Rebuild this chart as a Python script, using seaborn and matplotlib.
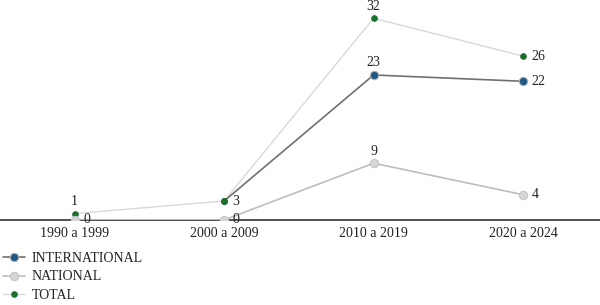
import numpy as np
import pandas as pd
import seaborn as sns
import matplotlib.pyplot as plt

periods = ['1990 a 1999', '2000 a 2009', '2010 a 2019', '2020 a 2024']
international = [np.nan, 3, 23, 22]
national = [0, 0, 9, 4]
total = [1, 3, 32, 26]

sns.set_theme(style='white')
plt.rcParams['font.family'] = ['Liberation Serif', 'DejaVu Serif']

fig = plt.figure(figsize=(6, 3.05), dpi=100)
ax = fig.add_axes([0, 0.279, 1, 0.721])

pos = np.arange(len(periods))
df = pd.DataFrame({'pos': pos, 'INTERNATIONAL': international,
                   'NATIONAL': national, 'TOTAL': total})

sns.lineplot(data=df, x='pos', y='TOTAL', ax=ax, color='#d9d9d9', lw=1,
             marker='o', ms=4, mfc='#1b6e2b', mec='#1b6e2b', label='TOTAL', zorder=2)
sns.lineplot(data=df, x='pos', y='NATIONAL', ax=ax, color='#bdbdbd', lw=1.2,
             marker='o', ms=6, mfc='#d6d6d6', mec='#c4c4c4', label='NATIONAL', zorder=3)
# seaborn drops the missing 1990s value, so the remaining points are 0..2
sns.lineplot(data=df, x='pos', y='INTERNATIONAL', ax=ax, color='#707070', lw=1.2,
             marker='o', ms=6, mfc='#1f5a85', mec='#b0b0b0', markevery=[1, 2],
             label='INTERNATIONAL', zorder=4)
# keep total marker visible at the 2000s point
ax.plot(pos[1], total[1], 'o', ms=4, color='#1b6e2b', zorder=5)

lab = dict(fontsize=10, color='#222222')
# labels above
for i, v in [(0, total[0]), (2, total[2]), (2, international[2]), (2, national[2])]:
    ax.annotate(str(v), (pos[i], v), xytext=(0, 4), textcoords='offset points',
                ha='center', va='bottom', **lab)
# labels right
for i, v in [(0, national[0]), (1, national[1]), (1, total[1]), (3, total[3]),
             (3, international[3]), (3, national[3])]:
    ax.annotate(str(v), (pos[i], v), xytext=(6, 0), textcoords='offset points',
                ha='left', va='center', **lab)

ax.set_xlim(-0.5, 3.515)
ax.set_ylim(0, 34.9)
ax.set_xticks(pos)
ax.set_xticklabels(periods, fontsize=10, color='#222222')
ax.tick_params(axis='x', length=0, pad=5)
ax.set_yticks([])
ax.set_xlabel('')
ax.set_ylabel('')
for s in ['top', 'right', 'left']:
    ax.spines[s].set_visible(False)
ax.spines['bottom'].set_color('#333333')
ax.spines['bottom'].set_linewidth(1.2)

handles, labels = ax.get_legend_handles_labels()
order = [labels.index(n) for n in ['INTERNATIONAL', 'NATIONAL', 'TOTAL']]
leg = ax.legend([handles[k] for k in order], [labels[k] for k in order],
                loc='upper left', bbox_to_anchor=(-0.005, -0.12), frameon=False,
                fontsize=10, handlelength=1.6, handletextpad=0.5, labelspacing=0.4,
                borderaxespad=0)
for t in leg.get_texts():
    t.set_color('#222222')

fig.savefig('out.png', dpi=100)
